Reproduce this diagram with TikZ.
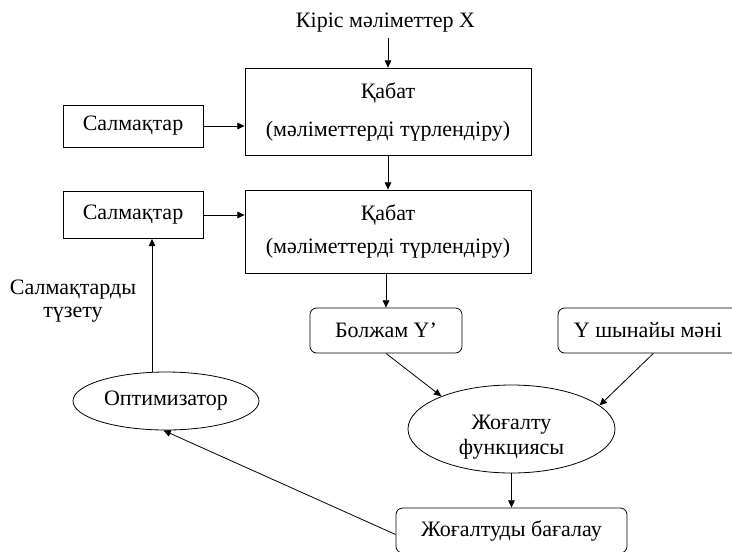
\documentclass[tikz,border=0pt]{standalone}
\usepackage{fontspec}
\setmainfont{Liberation Serif}
\usetikzlibrary{arrows.meta,shapes.geometric}
\begin{document}
\begin{tikzpicture}[x=0.75pt,y=-0.75pt,
  txt/.style={font=\fontsize{16.5}{19}\selectfont, inner sep=0pt, align=center},
  box/.style={txt, draw, line width=0.6pt},
  rbox/.style={box, rounded corners=5pt},
  oval/.style={txt, draw, line width=0.6pt, ellipse},
  arr/.style={line width=0.6pt, -{Triangle[length=5.5pt,width=5pt]}}]
\path[use as bounding box] (0,0) rectangle (732,551);
\clip (0,0) rectangle (732,551);

% input and the two transformation layers
\node[txt] (in) at (385.5,23) {Кіріс мәліметтер X};
\node[box, minimum width=214.5pt, minimum height=65.25pt] (top) at (388,111.5)
  {Қабат\\[9.5pt](мәліметтерді түрлендіру)};
\node[box, minimum width=214.5pt, minimum height=62.25pt] (mid) at (388,231.5)
  {Қабат\\[5.75pt](мәліметтерді түрлендіру)};

% weights
\node[box, minimum width=105pt, minimum height=31.5pt] (w1) at (133,126) {Салмақтар};
\node[box, minimum width=105pt, minimum height=35.25pt] (w2) at (133,215) {Салмақтар};
\node[txt, font=\fontsize{16.5}{17}\selectfont] (fix) at (73,301) {Салмақтарды\\түзету};

% prediction, target and loss
\node[rbox, minimum width=114pt, minimum height=33.75pt] (pred) at (386,330.5) {Болжам Y’};
\node[rbox, minimum width=135pt, minimum height=33.75pt] (true) at (648,330.5) {Y шынайы мәні};
\node[oval, minimum width=155.25pt, minimum height=66pt] (loss) at (511.5,429) {};
\node[txt] (losstxt) at (511.5,437) {Жоғалту\\функциясы};
\node[rbox, minimum width=173.25pt, minimum height=33.75pt] (eval) at (511.5,530.5) {Жоғалтуды бағалау};
\node[oval, minimum width=139.5pt, minimum height=43.5pt] (opt) at (166,401) {Оптимизатор};

% connectors
\draw[arr] ([yshift=-4pt]top.north |- in.south) -- (top.north);
\draw[arr] (w1.east) -- (w1.east -| top.west);
\draw[arr] (top.south) -- (mid.north);
\draw[arr] (w2.east) -- (w2.east -| mid.west);
\draw[arr] (pred.north |- mid.south) -- (pred.north);
\draw[arr] (pred.south) -- (loss.155);
\draw[arr] ([xshift=4pt]true.south) -- (loss.15);
\draw[arr] (loss.south) -- (eval.north);
\draw[arr] ([yshift=-3pt]eval.west) -- (opt.-95);
\draw[arr] ([xshift=-10.5pt]opt.north) -- ([xshift=-10.5pt]opt.north |- w2.south);
\end{tikzpicture}
\end{document}
